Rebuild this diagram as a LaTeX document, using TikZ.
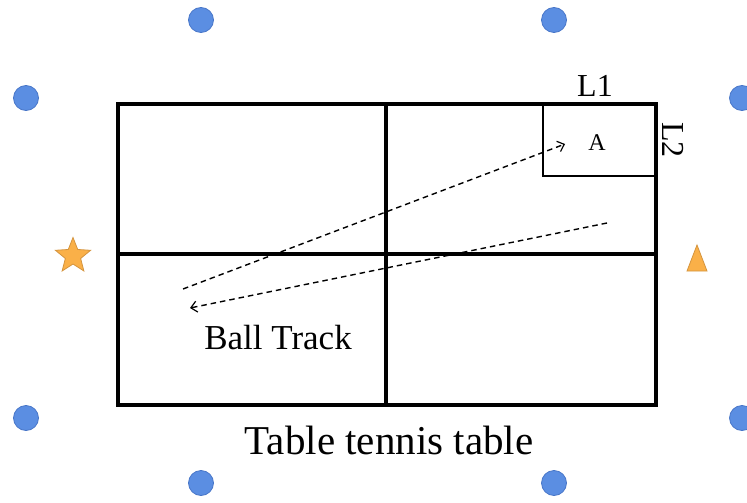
\documentclass[tikz,border=0pt]{standalone}
\usepackage{fontspec}
\setmainfont{Liberation Serif}
\newfontfamily\tnr{Liberation Serif}
\usetikzlibrary{shapes.geometric,arrows.meta}
\definecolor{dotfill}{RGB}{91,142,226}
\definecolor{dotedge}{RGB}{72,118,200}
\definecolor{orfill}{RGB}{250,176,72}
\definecolor{oredge}{RGB}{212,148,62}
\tikzset{
  dot/.style={circle,fill=dotfill,draw=dotedge,line width=0.8pt,minimum size=25pt,inner sep=0pt},
  tbl/.style={line width=3.4pt,line cap=rect},
  track/.style={line width=1.4pt,dash pattern=on 5.5pt off 4pt,-{Straight Barb[length=6pt,width=11pt,line width=1.2pt]}},
  lbl/.style={inner sep=0pt,anchor=base}
}
\begin{document}
\begin{tikzpicture}[x=1pt,y=-1pt]
\useasboundingbox (0,0) rectangle (747,503);
\clip (0,0) rectangle (747,503);
% dots
\node[dot] (d1) at (201,20) {};
\node[dot] (d2) at (554,20) {};
\node[dot] (d3) at (26,98) {};
\node[dot] (d4) at (742,98) {};
\node[dot] (d5) at (26,418) {};
\node[dot] (d6) at (742,418) {};
\node[dot] (d7) at (201,483) {};
\node[dot] (d8) at (554,483) {};
% star and triangle
\node[star,star points=5,star point ratio=2.3,minimum size=37pt,inner sep=0pt,fill=orfill,draw=oredge,line width=0.8pt] (st) at (73,256) {};
\draw[fill=orfill,draw=oredge,line width=0.8pt] (697,245) -- (707,271) -- (687,271) -- cycle;
% table
\draw[tbl] (118,104) rectangle (656,405);
\draw[tbl] (386,104) -- (386,405);
\draw[tbl] (118,254) -- (656,254);
\draw[line width=2.8pt] (543,104) -- (543,176) -- (656,176);
% labels
\node[lbl,font=\tnr\fontsize{24}{24}\selectfont] (A) at (597,150) {A};
\node[lbl,font=\tnr\fontsize{32}{32}\selectfont] (L1) at (595,96) {L1};
\node[inner sep=0pt,rotate=-90,font=\tnr\fontsize{32}{32}\selectfont] (L2) at (673,140) {L2};
\node[lbl,font=\tnr\fontsize{35}{35}\selectfont] (bt) at (278,349) {Ball Track};
\node[lbl,font=\tnr\fontsize{41}{41}\selectfont] (tt) at (389,454) {Table tennis table};
% ball tracks
\coordinate (s1) at (183,289);
\coordinate (e1) at (565,144);
\coordinate (s2) at (607,223);
\coordinate (e2) at (190,308);
\draw[track] (s1) -- (e1);
\draw[track] (s2) -- (e2);
\end{tikzpicture}
\end{document}
